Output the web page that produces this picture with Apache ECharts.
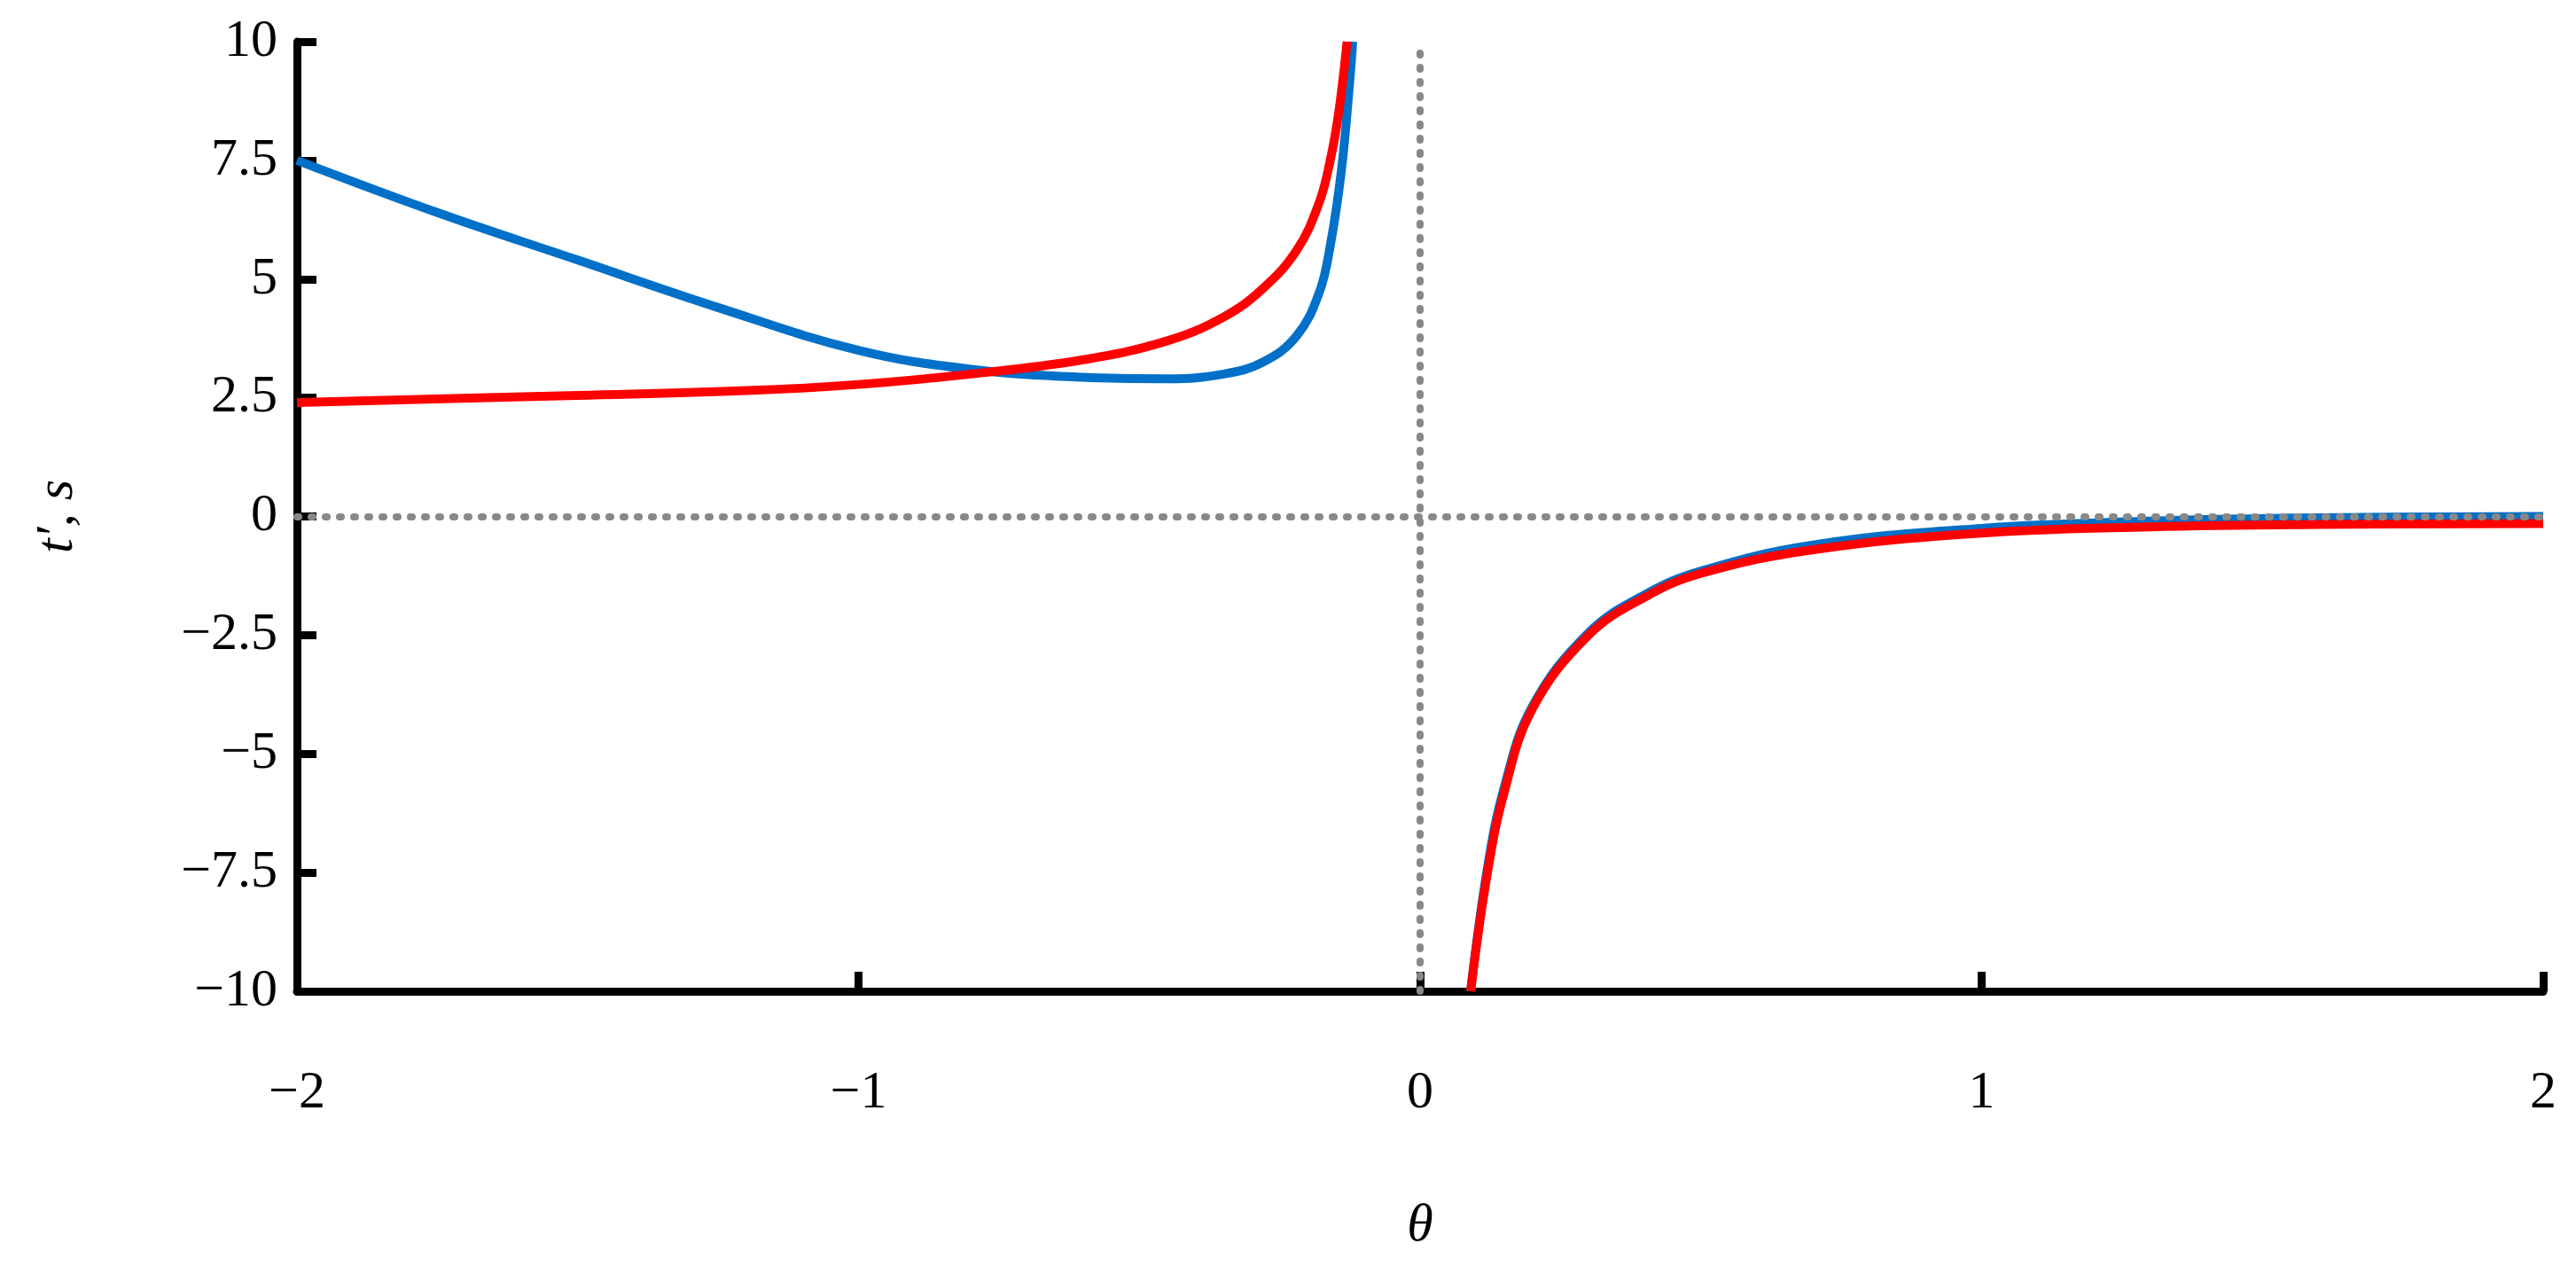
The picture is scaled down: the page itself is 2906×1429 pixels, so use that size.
<!DOCTYPE html><html><head><meta charset="utf-8"><script src="https://cdn.jsdelivr.net/npm/echarts@6/dist/echarts.min.js"></script>
<style>html,body{margin:0;background:#fff}#c{width:2906px;height:1429px}</style></head><body><div id="c"></div><script>
const blueLeft=[[-2,7.5],[-1.75,6.4],[-1.5,5.4],[-1.25,4.4],[-1,3.5],[-0.8,3.1],[-0.6,2.93],[-0.45,2.9],[-0.35,3.0],[-0.28,3.25],[-0.22,3.8],[-0.18,4.7],[-0.16,5.7],[-0.14,7.3],[-0.125,9.2],[-0.12,10]];
const redLeft=[[-2,2.4],[-1.5,2.55],[-1.2,2.65],[-1,2.78],[-0.8,3.0],[-0.6,3.3],[-0.45,3.7],[-0.35,4.2],[-0.28,4.8],[-0.22,5.6],[-0.18,6.6],[-0.16,7.5],[-0.145,8.5],[-0.13,10]];
const blueRight=[[0.09,-10],[0.12,-7.4],[0.15,-5.7],[0.2,-4.0],[0.3,-2.45],[0.4,-1.65],[0.5,-1.15],[0.7,-0.6],[1,-0.25],[1.3,-0.1],[1.6,-0.03],[2,0]];
const redRight=[[0.09,-10],[0.12,-7.5],[0.15,-5.8],[0.2,-4.05],[0.3,-2.5],[0.4,-1.7],[0.5,-1.2],[0.7,-0.7],[1,-0.35],[1.3,-0.22],[1.6,-0.17],[2,-0.15]];
const yTicks=[-10,-7.5,-5,-2.5,0,2.5,5,7.5,10];
const ff='Liberation Serif';
const fmt=v=>String(v).replace('-','\u2212');
const line=(d,c)=>({type:'line',data:d,showSymbol:false,smooth:0.4,lineStyle:{color:c,width:10},clip:true});
echarts.init(document.getElementById('c')).setOption({animation:false,
grid:{left:335,right:37,top:47,bottom:311},
xAxis:{type:'value',min:-2,max:2,interval:1,name:'θ',nameLocation:'middle',nameGap:235,nameTextStyle:{fontFamily:ff,fontStyle:'italic',fontSize:60,color:'#000'},
 axisLine:{onZero:false,lineStyle:{color:'#000',width:9}},axisTick:{inside:true,length:22,lineStyle:{color:'#000',width:9}},splitLine:{show:false},
 axisLabel:{formatter:fmt,fontFamily:ff,fontSize:60,color:'#000',margin:85}},
yAxis:{type:'value',min:-10,max:10,interval:2.5,name:"t′, s",nameLocation:'middle',nameGap:240,nameTextStyle:{fontFamily:ff,fontStyle:'italic',fontSize:60,color:'#000'},
 axisLine:{onZero:false,lineStyle:{color:'#000',width:9}},axisTick:{inside:true,length:22,lineStyle:{color:'#000',width:9}},splitLine:{show:false},
 axisLabel:{formatter:fmt,fontFamily:ff,fontSize:60,color:'#000',margin:22}},
series:[Object.assign(line(blueLeft,'#0070c8'),{markLine:{silent:true,symbol:'none',label:{show:false},lineStyle:{color:'#888',type:[2,14],width:8,cap:'round'},data:[{xAxis:0},{yAxis:0}]}}),
 line(redLeft,'#ff0000'),line(blueRight,'#0070c8'),line(redRight,'#ff0000')]});
</script></body></html>
